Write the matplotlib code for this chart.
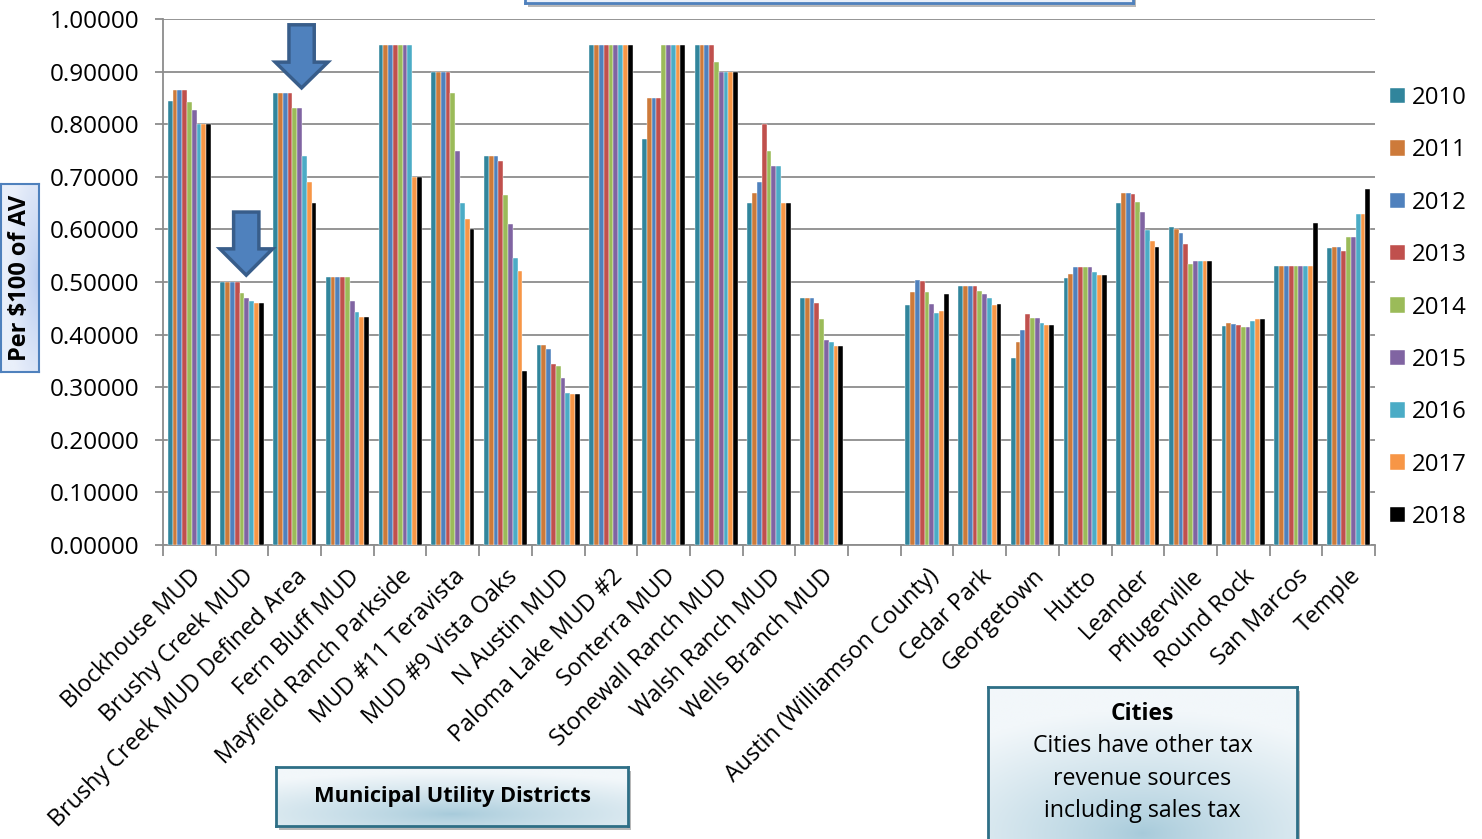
import numpy as np
import matplotlib.pyplot as plt
from matplotlib.patches import Polygon

plt.rcParams['font.family'] = ['Open Sans', 'DejaVu Sans']

years = ['2010', '2011', '2012', '2013', '2014', '2015', '2016', '2017', '2018']
year_colors = ['#31859C', '#CD7A3A', '#4F81BD', '#C0504D', '#9BBB59',
               '#8064A2', '#4BACC6', '#F79646', '#000000']

mud_names = ['Blockhouse MUD', 'Brushy Creek MUD', 'Brushy Creek MUD Defined Area',
             'Fern Bluff MUD', 'Mayfield Ranch Parkside', 'MUD #11 Teravista',
             'MUD #9 Vista Oaks', 'N Austin MUD', 'Paloma Lake MUD #2', 'Sonterra MUD',
             'Stonewall Ranch MUD', 'Walsh Ranch MUD', 'Wells Branch MUD']
mud_rates = [
    [0.845, 0.865, 0.865, 0.865, 0.8425, 0.827, 0.80, 0.80, 0.80],
    [0.50, 0.50, 0.50, 0.50, 0.4786, 0.469, 0.463, 0.46, 0.46],
    [0.86, 0.86, 0.86, 0.86, 0.83, 0.83, 0.74, 0.69, 0.65],
    [0.51, 0.51, 0.51, 0.51, 0.51, 0.4635, 0.4435, 0.4335, 0.4335],
    [0.95, 0.95, 0.95, 0.95, 0.95, 0.95, 0.95, 0.70, 0.70],
    [0.90, 0.90, 0.90, 0.90, 0.86, 0.75, 0.65, 0.62, 0.60],
    [0.74, 0.74, 0.74, 0.73, 0.665, 0.61, 0.545, 0.52, 0.33],
    [0.381, 0.381, 0.372, 0.345, 0.34, 0.317, 0.289, 0.287, 0.287],
    [0.95, 0.95, 0.95, 0.95, 0.95, 0.95, 0.95, 0.95, 0.95],
    [0.7725, 0.85, 0.85, 0.85, 0.95, 0.95, 0.95, 0.95, 0.95],
    [0.95, 0.95, 0.95, 0.95, 0.9175, 0.90, 0.90, 0.90, 0.90],
    [0.65, 0.67, 0.69, 0.80, 0.75, 0.72, 0.72, 0.65, 0.65],
    [0.47, 0.47, 0.47, 0.46, 0.43, 0.39, 0.386, 0.379, 0.379],
]

city_names = ['Austin (Williamson County)', 'Cedar Park', 'Georgetown', 'Hutto',
              'Leander', 'Pflugerville', 'Round Rock', 'San Marcos', 'Temple']
city_rates = [
    [0.4571, 0.4811, 0.5029, 0.5027, 0.4809, 0.4589, 0.4418, 0.4448, 0.4763],
    [0.4928, 0.4928, 0.4928, 0.4928, 0.4838, 0.4780, 0.4695, 0.4560, 0.4590],
    [0.3558, 0.3860, 0.4080, 0.4390, 0.4320, 0.4320, 0.4230, 0.4190, 0.4190],
    [0.5067, 0.5150, 0.5280, 0.5280, 0.5280, 0.5280, 0.5190, 0.5140, 0.5140],
    [0.6500, 0.6700, 0.6700, 0.6671, 0.6519, 0.6329, 0.5990, 0.5779, 0.5670],
    [0.6040, 0.6000, 0.5940, 0.5730, 0.5338, 0.5390, 0.5390, 0.5390, 0.5390],
    [0.4167, 0.4216, 0.4197, 0.4180, 0.4140, 0.4140, 0.4250, 0.4290, 0.4290],
    [0.5300, 0.5300, 0.5300, 0.5300, 0.5300, 0.5300, 0.5300, 0.5300, 0.6130],
    [0.5640, 0.5673, 0.5673, 0.5587, 0.5849, 0.5849, 0.6300, 0.6300, 0.6765],
]

# one empty slot separates the MUDs from the cities
labels = mud_names + [''] + city_names
rates = np.array(mud_rates + [[np.nan] * 9] + city_rates)
x = np.arange(len(labels))

W, H = 1482, 839
fig = plt.figure(figsize=(W / 100, H / 100), dpi=100)
ax = fig.add_axes([163 / W, 1 - 545 / H, (1375 - 163) / W, (545 - 19) / H])


def px(x0, y0, x1, y1):
    # figure rect from pixel box (top-left origin)
    return [x0 / W, 1 - y1 / H, (x1 - x0) / W, (y1 - y0) / H]


def gradient_box(rect, center=(0.5, 0.75), inner='#A6CADA', outer='#F2F7FA',
                 edge='#2E6F86', lw=2.0, shadow=True):
    if shadow:
        sh = fig.add_axes([rect[0] + 3 / W, rect[1] - 4 / H, rect[2], rect[3]], zorder=1)
        sh.set_facecolor('#B8B8B8')
        sh.set_xticks([]); sh.set_yticks([])
        for s in sh.spines.values():
            s.set_visible(False)
    bx = fig.add_axes(rect, zorder=2)
    gx, gy = np.meshgrid(np.linspace(0, 1, 200), np.linspace(0, 1, 100))
    r = np.clip(np.hypot((gx - center[0]) * 1.2, (gy - center[1]) * 1.4), 0, 1)
    c0 = np.array(plt.matplotlib.colors.to_rgb(inner))
    c1 = np.array(plt.matplotlib.colors.to_rgb(outer))
    img = c0 + (c1 - c0) * r[..., None] ** 0.8
    bx.imshow(img, extent=[0, 1, 0, 1], aspect='auto', origin='upper')
    bx.set_xlim(0, 1); bx.set_ylim(0, 1)
    bx.set_xticks([]); bx.set_yticks([])
    for s in bx.spines.values():
        s.set_color(edge)
        s.set_linewidth(lw)
    return bx


group_w = 0.82
bar_w = group_w / len(years)
for j, (yr, col) in enumerate(zip(years, year_colors)):
    offs = -group_w / 2 + bar_w * (j + 0.5)
    ax.bar(x + offs, rates[:, j], bar_w, color=col, label=yr,
           edgecolor='#FFFFFF', linewidth=0.3, zorder=3)

ax.set_xlim(-0.5, len(labels) - 0.5)
ax.set_ylim(0, 1.0)
ax.set_yticks(np.arange(0, 1.01, 0.1))
ax.set_yticklabels([f'{v:.5f}' for v in np.arange(0, 1.01, 0.1)])
ax.yaxis.grid(True, color='#8C8C8C', linewidth=1.3, zorder=0)
ax.set_axisbelow(True)
ax.tick_params(axis='y', labelsize=17.5, length=6, width=1.3, color='#8C8C8C', pad=11)

ax.set_xticks(x)
ax.set_xticklabels(labels, rotation=45, ha='right', rotation_mode='anchor', fontsize=16.8)
ax.tick_params(axis='x', length=0, pad=14)
ax.set_xticks(np.arange(-0.5, len(labels)), minor=True)
ax.tick_params(axis='x', which='minor', length=8, width=1.3, color='#8C8C8C')

for side in ['top', 'right']:
    ax.spines[side].set_visible(False)
for side in ['left', 'bottom']:
    ax.spines[side].set_color('#8C8C8C')
    ax.spines[side].set_linewidth(1.3)

ax.legend(loc='center left', bbox_to_anchor=(1380 / W, 1 - 307.5 / H),
          bbox_transform=fig.transFigure, frameon=False, fontsize=17.3,
          handlelength=0.62, handleheight=0.62, handletextpad=0.3,
          labelspacing=1.18, borderaxespad=0)

# block arrows pointing at the Brushy Creek groups
def block_arrow(cx, top, neck, tip, shaft=0.24, head=0.5):
    pts = [(cx - shaft, top), (cx + shaft, top), (cx + shaft, neck), (cx + head, neck),
           (cx, tip), (cx - head, neck), (cx - shaft, neck)]
    ax.add_patch(Polygon(pts, closed=True, facecolor='#4F81BD', edgecolor='#385D8A',
                         linewidth=2.5, zorder=5, clip_on=False))

block_arrow(2.13, 0.989, 0.918, 0.869)
block_arrow(1.08, 0.633, 0.563, 0.513)

# y label box
yb = gradient_box(px(1, 184, 39, 372), center=(1.0, 0.5), inner='#B7CBF0',
                  outer='#E9EFFA', edge='#4F81BD', lw=1.5, shadow=False)
yb.text(0.5, 0.5, 'Per \\$100 of AV', rotation=90, ha='center', va='center',
        fontsize=17, fontweight='bold', transform=yb.transAxes)

# title box cut off at the top
tb = gradient_box(px(525, -30, 1133, 3), center=(0.5, 0.5), inner='#DCE6F7',
                  outer='#EEF3FB', edge='#4F81BD', lw=2.0)

mb = gradient_box(px(276, 767, 628, 826), center=(0.5, 0.8))
mb.text(0.5, 0.5, 'Municipal Utility Districts', ha='center', va='center',
        fontsize=15.7, fontweight='bold', transform=mb.transAxes)

cb = gradient_box(px(988, 687, 1297, 860), center=(0.5, 0.85))
cb.text(0.5, 1 - 27 / 173, 'Cities', ha='center', va='center', fontsize=16.5,
        fontweight='bold', transform=cb.transAxes)
for i, line in enumerate(['Cities have other tax', 'revenue sources', 'including sales tax']):
    cb.text(0.5, 1 - (59 + 32.5 * i) / 173, line, ha='center', va='center',
            fontsize=16.7, transform=cb.transAxes)

fig.savefig('out.png', dpi=100)
